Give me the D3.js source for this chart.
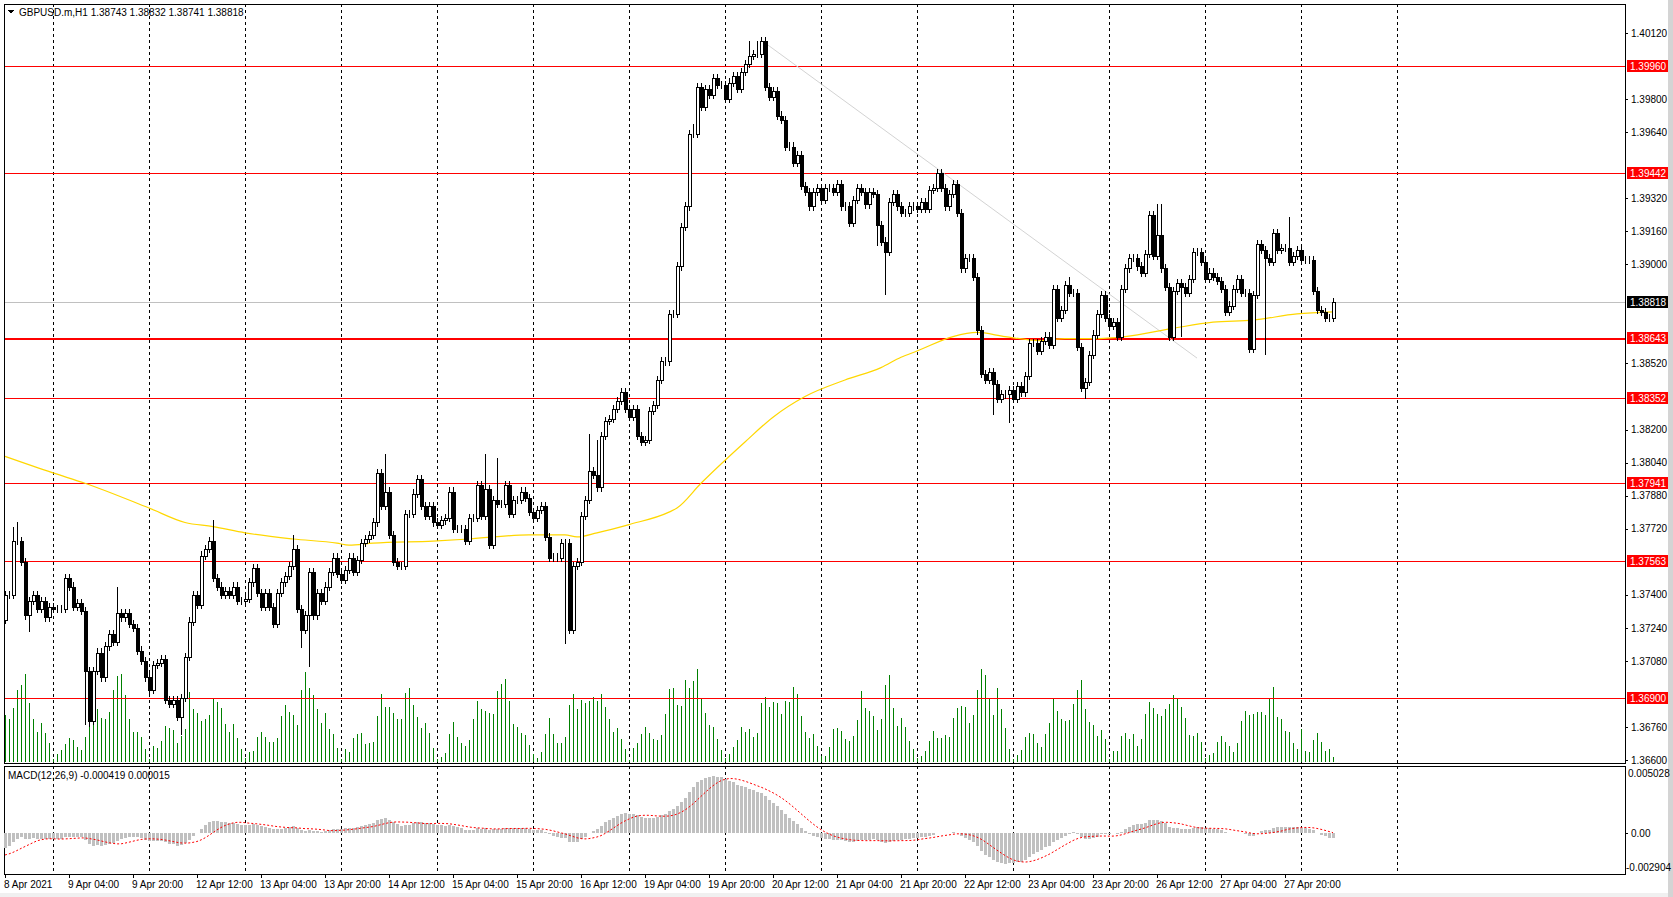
<!DOCTYPE html>
<html><head><meta charset="utf-8">
<script src="https://cdn.jsdelivr.net/npm/d3@7"></script>
<style>body{margin:0;background:#fff}svg{display:block}text{font-family:"Liberation Sans",Arial,sans-serif;font-size:10px}</style>
</head><body><svg id="c" width="1673" height="897"></svg>
<script>
const closesA=[1.3740,1.3740,1.3766,1.3766,1.3756,1.3730,1.3737,1.3740,1.3733,1.3737,1.3729,1.3734,1.3733,1.3733,1.3733,1.3748,1.3744,1.3734,1.3736,1.3732,1.3703,1.3679,1.3703,1.3712,1.3700,1.3715,1.3721,1.3717,1.3731,1.3729,1.3731,1.3726,1.3724,1.3713,1.3708,1.3700,1.3694,1.3706,1.3707,1.3709,1.3689,1.3687,1.3689,1.3681,1.3690,1.3710,1.3727,1.3740,1.3735,1.3759,1.3762,1.3766,1.3748,1.3744,1.3740,1.3742,1.3740,1.3744,1.3737,1.3737,1.3738,1.3746,1.3753,1.3741,1.3734,1.3741,1.3734,1.3726,1.3741,1.3746,1.3749,1.3754,1.3762,1.3733,1.3723,1.3730,1.3751,1.3730,1.3741,1.3737,1.3744,1.3751,1.3758,1.3750];
const closesB=[1.3747,1.3752,1.3758,1.3751,1.3757,1.3765,1.3767,1.3769,1.3775,1.3799,1.3783,1.3790,1.3769,1.3756,1.3754,1.3754,1.3779,1.3779,1.3789,1.3796,1.3783,1.3778,1.3783,1.3775,1.3774,1.3776,1.3777,1.3790,1.3772,1.3772,1.3772,1.3766,1.3777,1.3777,1.3793,1.3778,1.3791,1.3764,1.3786,1.3784,1.3784,1.3793,1.3779,1.3786,1.3786,1.3790,1.3787,1.3780,1.3777,1.3781,1.3783,1.3768,1.3758,1.3758,1.3758,1.3765,1.3765,1.3723,1.3754,1.3756,1.3778,1.3786,1.3800,1.3798,1.3792,1.3817,1.3824,1.3825,1.3830,1.3834,1.3838,1.3830,1.3826,1.3830,1.3817,1.3814,1.3815,1.3829,1.3832,1.3844];
const closesC=[1.3853,1.3853,1.3876,1.3876,1.3899,1.3918,1.3928,1.3963,1.3963,1.3986,1.3976,1.3985,1.3982,1.3990,1.3987,1.3987,1.3980,1.3988,1.3991,1.3985,1.3993,1.3997,1.4001,1.4002,1.4002,1.4008,1.3986,1.3981,1.3984,1.3972,1.3970,1.3957,1.3957,1.3949,1.3953,1.3938,1.3935,1.3928,1.3935,1.3937,1.3931,1.3937,1.3937,1.3935,1.3939,1.3928,1.3928,1.3920,1.3931,1.3937,1.3935,1.3929,1.3935,1.3934,1.3919,1.3911,1.3906,1.3930,1.3934,1.3928];
const closesD=[1.3925,1.3925,1.3928,1.3928,1.3927,1.3930,1.3927,1.3936,1.3937,1.3944,1.3937,1.3928,1.3934,1.3939,1.3925,1.3898,1.3903,1.3903,1.3894,1.3868,1.3847,1.3844,1.3848,1.3842,1.3835,1.3837,1.3837,1.3839,1.3835,1.3841,1.3838,1.3846,1.3862,1.3862,1.3858,1.3863,1.3865,1.3861,1.3888,1.3874,1.3878,1.3890,1.3886,1.3886,1.3860,1.3840,1.3843,1.3856,1.3866,1.3876,1.3885,1.3874,1.3870,1.3872,1.3865,1.3888,1.3898,1.3903,1.3903,1.3899,1.3896,1.3905,1.3924,1.3904,1.3914,1.3898,1.3889,1.3865,1.3887,1.3891,1.3889,1.3886,1.3893,1.3906,1.3906,1.3901,1.3893,1.3896,1.3894,1.3892,1.3888,1.3877,1.3880,1.3888,1.3893,1.3886,1.3886,1.3859,1.3885,1.3910,1.3907,1.3903,1.3901,1.3915,1.3907,1.3908,1.3908,1.3901,1.3904,1.3907,1.3902,1.3902,1.3902,1.3887,1.3878,1.3877,1.3874,1.3874,1.38818];
const firstOpen=1.3728;
// notable wick extremes: [bar, high, low]
const wickExtremes=[[2,1.3773,null],[3,1.3775,null],[6,null,1.3722],[20,null,1.3677],[21,null,1.3676],[28,1.3744,null],[43,null,1.3680],[44,null,1.3672],[52,1.3776,null],[72,1.3769,null],[74,null,1.3714],[76,null,1.3705],[95,1.3808,null],[120,1.3808,null],[123,1.3806,null],[140,null,1.3716],[146,1.3818,null],[148,1.3815,null],[172,1.3968,null],[186,1.4008,null],[188,1.4008,null],[189,1.4009,null],[220,null,1.3885],[218,null,1.3909],[247,null,1.3827],[251,null,1.3823],[266,1.3894,null],[270,null,1.3835],[288,1.3929,null],[289,1.3929,null],[294,null,1.3865],[315,null,1.3856],[321,1.3923,null]];
const volumes=[47,43,54,72,77,88,59,43,30,39,29,19,3,8,12,18,24,22,15,12,25,51,63,53,44,43,50,72,86,88,67,43,30,30,25,13,3,16,14,21,36,34,32,19,26,33,70,53,49,41,43,47,64,60,54,38,30,38,24,13,4,10,11,25,30,25,20,20,24,46,57,50,47,37,72,90,74,67,53,39,49,33,28,14,
3,13,10,24,28,29,18,19,20,46,68,55,55,49,43,43,69,74,57,45,34,39,29,14,3,5,9,28,40,25,19,16,22,43,61,53,51,49,48,71,78,83,61,38,35,29,27,17,8,4,10,28,44,28,19,19,25,57,68,53,62,59,61,65,61,68,55,43,30,34,23,13,2,14,19,28,35,29,23,22,27,48,73,
74,57,56,82,74,81,93,64,49,37,35,23,12,4,8,15,22,35,30,33,25,29,59,65,55,60,59,48,61,60,75,68,46,30,24,28,16,6,6,15,33,34,31,23,21,26,42,71,54,51,46,32,43,77,87,54,36,44,35,21,13,4,6,11,21,31,24,24,27,25,44,54,56,55,39,47,72,93,87,63,47,74,53,34,13,
3,7,12,25,29,28,19,15,28,39,63,51,43,41,42,58,72,82,53,40,37,26,32,23,3,11,11,26,29,23,28,16,23,48,60,54,48,46,53,58,67,63,55,44,27,26,29,20,4,7,9,20,26,20,16,10,19,41,51,47,48,50,50,47,63,75,45,43,31,30,19,13,33,11,10,22,29,20,11,13,5];
const maBars=[0,12,20,36,45,52,60,72,83,86,92,107,116,131,140,143,148,156,166,168,174,185,192,200,210,219,224,228,237,243,250,259,265,272,280,292,302,312,323,332];
const maValues=[1.3807,1.3799,1.3794,1.3782,1.3775,1.3773,1.3770,1.3767,1.3765,1.3764,1.3765,1.3766,1.3767,1.3769,1.3769,1.3768,1.3770,1.3774,1.3780,1.3782,1.3794,1.3814,1.3826,1.3836,1.3844,1.3850,1.3855,1.3858,1.3865,1.3867,1.3865,1.3863,1.3864,1.3864,1.3865,1.3869,1.3872,1.3873,1.3876,1.3877];
const levels=[1.39960,1.39442,1.38643,1.38352,1.37941,1.37563,1.36900];
const levelWidths=[1,1,2,1,1,1,1];
const currentPrice=1.38818;
const trendBars=[190,298], trendPrices=[1.40072,1.38546];
const priceTicks=[1.40120,1.39800,1.39640,1.39480,1.39320,1.39160,1.39000,1.38840,1.38680,1.38520,1.38360,1.38200,1.38040,1.37880,1.37720,1.37560,1.37400,1.37240,1.37080,1.36920,1.36760,1.36600];
const timeLabels=["8 Apr 2021","9 Apr 04:00","9 Apr 20:00","12 Apr 12:00","13 Apr 04:00","13 Apr 20:00","14 Apr 12:00","15 Apr 04:00","15 Apr 20:00","16 Apr 12:00","19 Apr 04:00","19 Apr 20:00","20 Apr 12:00","21 Apr 04:00","21 Apr 20:00","22 Apr 12:00","23 Apr 04:00","23 Apr 20:00","26 Apr 12:00","27 Apr 04:00","27 Apr 20:00"];
const macdSeed={ema12Offset:-0.0007,ema26Offset:0.0007,signal:-0.0019};

const closes=[...closesA,...closesB,...closesC,...closesD];
const N=closes.length;
const bars=closes.map((c,i)=>{const o=i?closes[i-1]:firstOpen;return{o,c,h:Math.max(o,c)+0.0002,l:Math.min(o,c)-0.0002};});
wickExtremes.forEach(([i,h,l])=>{if(h!=null)bars[i].h=Math.max(bars[i].h,h);if(l!=null)bars[i].l=Math.min(bars[i].l,l);});
let e12=closes[0]+macdSeed.ema12Offset,e26=closes[0]+macdSeed.ema26Offset;const macd=[];
closes.forEach(c=>{e12+=(c-e12)*2/13;e26+=(c-e26)*2/27;macd.push(e12-e26);});
const signal=macd.map((m,i)=>{let s=0;for(let k=i-8;k<=i;k++)s+=k>=0?macd[k]:macdSeed.signal;return s/9;});

const svg=d3.select("#c");
const L=4,R=1625,T=4,B=763,MT=766,MB=874;
const x=d3.scaleLinear().domain([0,N-1]).range([5,5+4*(N-1)]);
const y=d3.scaleLinear().domain([1.36600,1.40120]).range([760,33]);
const yv=d3.scaleLinear().domain([0,100]).range([762,662]);
const ym=d3.scaleLinear().domain([-0.002904,0.005028]).range([868,772]);
svg.attr("shape-rendering","crispEdges");
svg.append("rect").attr("x",0).attr("y",0).attr("width",1673).attr("height",897).attr("fill","#fff");
svg.append("rect").attr("x",0).attr("y",893).attr("width",1673).attr("height",4).attr("fill","#f0f0f0");
svg.append("rect").attr("x",1668).attr("y",0).attr("width",5).attr("height",897).attr("fill","#d4d4d4");
const gridBars=d3.range(12,N+60,24).filter(b=>x(b)<1400);
[[T,B],[MT,MB]].forEach(([a,b])=>svg.selectAll(null).data(gridBars).enter().append("line").attr("x1",d=>Math.round(x(d))+.5).attr("x2",d=>Math.round(x(d))+.5).attr("y1",a).attr("y2",b).attr("stroke","#000").attr("stroke-dasharray","3,3"));
svg.append("g").selectAll("line").data(volumes).enter().append("line").attr("x1",(d,i)=>Math.round(x(i))+.5).attr("x2",(d,i)=>Math.round(x(i))+.5).attr("y1",762).attr("y2",d=>yv(d)).attr("stroke","#008000");
svg.selectAll(null).data(levels).enter().append("line").attr("x1",L).attr("x2",R).attr("y1",d=>Math.round(y(d))+.5).attr("y2",d=>Math.round(y(d))+.5).attr("stroke","#ff0000").attr("stroke-width",(d,i)=>levelWidths[i]);
svg.append("line").attr("x1",L).attr("x2",R).attr("y1",Math.round(y(currentPrice))+.5).attr("y2",Math.round(y(currentPrice))+.5).attr("stroke","#c0c0c0");
svg.append("line").attr("x1",x(trendBars[0])).attr("x2",x(trendBars[1])).attr("y1",y(trendPrices[0])).attr("y2",y(trendPrices[1])).attr("stroke","#d3d3d3").attr("shape-rendering","auto");
svg.append("path").datum(maBars.map((b,i)=>[x(b),y(maValues[i])])).attr("d",d3.line().curve(d3.curveMonotoneX)).attr("fill","none").attr("stroke","#ffd700").attr("stroke-width",1.2).attr("shape-rendering","auto");
const g=svg.append("g");
bars.forEach((b,i)=>{const cx=Math.round(x(i))+.5;
 g.append("line").attr("x1",cx).attr("x2",cx).attr("y1",Math.round(y(b.h))).attr("y2",Math.round(y(b.l))).attr("stroke","#000");
 const top=Math.round(y(Math.max(b.o,b.c))),bot=Math.round(y(Math.min(b.o,b.c)));
 g.append("rect").attr("x",cx-1.5).attr("y",top+.5).attr("width",3).attr("height",Math.max(0,bot-top)).attr("fill",b.c>=b.o?"#fff":"#000").attr("stroke","#000");});
svg.append("rect").attr("x",L+.5).attr("y",T+.5).attr("width",R-L).attr("height",B-T).attr("fill","none").attr("stroke","#000");
svg.append("rect").attr("x",L+.5).attr("y",MT+.5).attr("width",R-L).attr("height",MB-MT).attr("fill","none").attr("stroke","#000");
// price axis (ticks hidden behind level labels are skipped)
const labelled=[...levels,currentPrice];
const shownTicks=priceTicks.filter(t=>labelled.every(l=>Math.abs(y(t)-y(l))>11));
const ax=svg.append("g").attr("transform",`translate(${R},0)`).call(d3.axisRight(y).tickValues(shownTicks).tickFormat(d3.format(".5f")).tickSize(3).tickPadding(3));
ax.select(".domain").remove();ax.selectAll("text").attr("font-size",10).attr("fill","#000").attr("font-family","Liberation Sans, Arial, sans-serif");
svg.selectAll(null).data(levels).enter().append("rect").attr("x",R+2).attr("y",d=>y(d)-6).attr("width",41).attr("height",12).attr("fill","#ff0000");
svg.selectAll(null).data(levels).enter().append("text").attr("x",R+5).attr("y",d=>y(d)+4).attr("fill","#fff").text(d=>d.toFixed(5));
svg.append("rect").attr("x",R+2).attr("y",y(currentPrice)-6).attr("width",41).attr("height",12).attr("fill","#000");
svg.append("text").attr("x",R+5).attr("y",y(currentPrice)+4).attr("fill","#fff").text(currentPrice.toFixed(5));
svg.append("g").selectAll("line").data(macd).enter().append("line").attr("x1",(d,i)=>Math.round(x(i))+.5).attr("x2",(d,i)=>Math.round(x(i))+.5).attr("y1",ym(0)).attr("y2",d=>ym(d)).attr("stroke","#c0c0c0").attr("stroke-width",3);
svg.append("path").datum(signal).attr("d",d3.line().x((d,i)=>x(i)).y(d=>ym(d))).attr("fill","none").attr("stroke","#ff0000").attr("stroke-dasharray","2,2").attr("shape-rendering","auto");
const am=svg.append("g").attr("transform",`translate(${R},0)`).call(d3.axisRight(ym).tickValues([0]).tickFormat(()=> "0.00").tickSize(3).tickPadding(3));
am.select(".domain").remove();am.selectAll("text").attr("font-family","Liberation Sans, Arial, sans-serif");
svg.append("text").attr("x",R+3).attr("y",777).attr("font-size",9.5).text("0.005028");
svg.append("text").attr("x",R+1).attr("y",871).attr("font-size",9.5).text("-0.002904");
svg.append("text").attr("x",8).attr("y",779).text("MACD(12,26,9) "+macd[N-1].toFixed(6)+" "+signal[N-1].toFixed(6));
svg.selectAll(null).data(timeLabels).enter().append("text").attr("x",(d,i)=>x(i*16)-1).attr("y",888).attr("font-size",9.5).text(d=>d);
svg.selectAll(null).data(timeLabels).enter().append("line").attr("x1",(d,i)=>Math.round(x(i*16))+.5).attr("x2",(d,i)=>Math.round(x(i*16))+.5).attr("y1",MB).attr("y2",MB+4).attr("stroke","#000");
svg.append("path").attr("d","M8,10 L14,10 L11,14 Z").attr("fill","#000");
svg.append("text").attr("x",19).attr("y",16).text("GBPUSD.m,H1  1.38743 1.38832 1.38741 1.38818");
</script></body></html>
